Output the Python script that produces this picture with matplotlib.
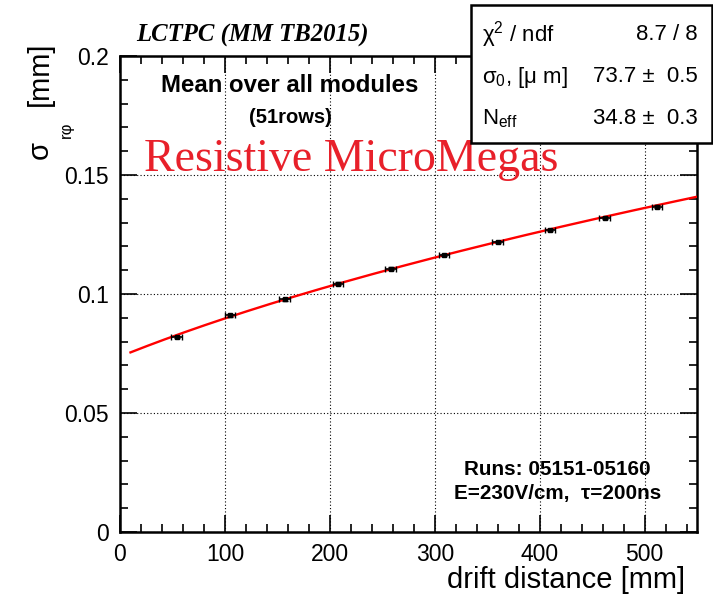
import numpy as np
import matplotlib
matplotlib.use("Agg")
import matplotlib.pyplot as plt
import matplotlib.ticker as ticker
from matplotlib.patches import Rectangle

plt.rcParams["font.family"] = ["Liberation Sans", "DejaVu Sans"]
plt.rcParams["mathtext.fontset"] = "custom"
plt.rcParams["mathtext.rm"] = "Liberation Sans"
plt.rcParams["mathtext.it"] = "Liberation Sans:italic"
plt.rcParams["mathtext.bf"] = "Liberation Sans:bold"

# data: drift distance [mm] vs resolution [mm]
drift = [54, 105, 157, 208, 258, 309, 360, 410, 462, 512]
sigma = [0.0818, 0.0910, 0.0977, 0.1044, 0.1107, 0.1163, 0.1219, 0.1270, 0.1320, 0.1367]
drift_err = [5] * 10
sigma_err = [0.0005] * 10

# fit result
sigma0 = 0.0737   # mm
n_eff = 34.8
cd = 0.0302       # mm / sqrt(mm)

W, H = 713, 597
fig = plt.figure(figsize=(W / 100, H / 100), dpi=100)
ax = fig.add_axes([0.1683, 0.1089, 0.8093, 0.7973])

z = np.linspace(10, 550, 200)
ax.plot(z, np.sqrt(sigma0**2 + cd**2 * z / n_eff), color="red", lw=1.7, zorder=3)
ax.errorbar(drift, sigma, xerr=drift_err, yerr=sigma_err, fmt="s", ms=2.5,
            color="black", ecolor="black", elinewidth=1.2, capsize=2, zorder=4)

ax.set_xlim(0, 550)
ax.set_ylim(0, 0.2)
ax.xaxis.set_major_locator(ticker.MultipleLocator(100))
ax.xaxis.set_minor_locator(ticker.MultipleLocator(20))
ax.yaxis.set_major_locator(ticker.MultipleLocator(0.05))
ax.yaxis.set_minor_locator(ticker.MultipleLocator(0.01))
ax.yaxis.set_major_formatter(ticker.FuncFormatter(lambda v, p: f"{v:g}"))
ax.tick_params(which="both", direction="in", top=True, right=True, labelsize=16.5, width=1.2)
ax.tick_params(which="major", length=12, pad=8)
ax.tick_params(which="minor", length=6)
ax.grid(True, which="major", linestyle=(0, (1, 2)), color="black", lw=0.8)
for s in ax.spines.values():
    s.set_linewidth(1.8)

# y axis title, ROOT style with low subscript
fig.text(40 / W, 1 - 150 / H, "σ", rotation=90, ha="center", va="center", fontsize=21)
fig.text(66 / W, 1 - 130 / H, "rφ", rotation=90, ha="center", va="center", fontsize=12)
fig.text(40 / W, 1 - 74 / H, "[mm]", rotation=90, ha="center", va="center", fontsize=21)
fig.text(685 / W, 1 - 580 / H, "drift distance [mm]", ha="right", va="center", fontsize=21)

fig.text(136 / W, 1 - 35 / H, "LCTPC (MM TB2015)", family="Liberation Serif",
         weight="bold", style="italic", fontsize=17.8, va="center")

ax.text(162, 0.1876, "Mean over all modules", ha="center", va="center",
        fontsize=17.3, weight="bold")
ax.text(162, 0.1742, "(51rows)", ha="center", va="center", fontsize=14.5, weight="bold")
ax.text(23, 0.1565, "Resistive MicroMegas", family="Liberation Serif",
        color="#e8202a", fontsize=33, va="center", ha="left")
ax.text(417, 0.0262, "Runs: 05151-05160", ha="center", va="center", fontsize=14.9, weight="bold")
ax.text(417, 0.0162, "E=230V/cm,  τ=200ns", ha="center", va="center", fontsize=14.9, weight="bold")

# stats box
box = Rectangle((471 / W, 1 - 143 / H), 241 / W, 138 / H, transform=fig.transFigure,
                facecolor="white", edgecolor="black", lw=1.8, zorder=10)
fig.add_artist(box)
rows = [("χ$^{2}$ / ndf", "8.7 / 8"),
        ("σ$_{0}$, [μ m]", "73.7 ±  0.5"),
        ("N$_{\\mathrm{eff}}$", "34.8 ±  0.3")]
for i, (lab, val) in enumerate(rows):
    y = 1 - (35 + i * 42) / H
    fig.text(482 / W, y, lab, fontsize=16, va="center", ha="left", zorder=11)
    fig.text(698 / W, y, val, fontsize=16, va="center", ha="right", zorder=11)

fig.savefig("out.png", dpi=100)
